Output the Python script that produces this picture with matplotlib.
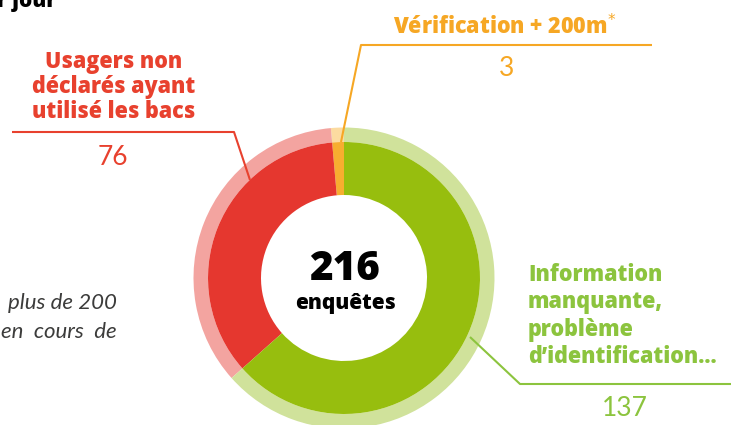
import matplotlib.pyplot as plt

plt.rcParams['font.family'] = ['Lato', 'DejaVu Sans']
BOLD = ['Open Sans', 'DejaVu Sans']

# data
categories = ['Vérification + 200m', 'Usagers non déclarés ayant utilisé les bacs',
              'Information manquante, problème d\u2019identification...']
values = [3, 76, 137]
total = sum(values)

dark = ['#f7ae30', '#e5372f', '#97be0e']
light = ['#fcdba0', '#f3a4a0', '#d0e29b']
txt = ['#f6a724', '#e8412e', '#8cc43e']

# figure in pixel units, y up
fig = plt.figure(figsize=(7.4, 4.25), dpi=100)
ax = fig.add_axes([0, 0, 1, 1])

cx, cy = 344, 147
ax.pie(values, colors=light, radius=150.5, center=(cx, cy), startangle=90,
       counterclock=True, wedgeprops=dict(width=14.5, linewidth=0))
ax.pie(values, colors=dark, radius=136, center=(cx, cy), startangle=90,
       counterclock=True, wedgeprops=dict(width=53, linewidth=0))

ax.set_xlim(0, 740)
ax.set_ylim(0, 425)
ax.set_aspect('equal')
ax.axis('off')

# centre text
ax.text(cx + 1, 156, str(total), ha='center', va='center', fontsize=29,
        fontweight=800, family=BOLD, color='black')
ax.text(cx + 1, 121, 'enquêtes', ha='center', va='center', fontsize=15,
        fontweight=800, family=BOLD, color='black')

# leader lines
ax.plot([12, 234, 250], [293, 293, 245], color=txt[1], lw=1.5, solid_capstyle='butt')
ax.plot([652, 361, 341], [380, 380, 283], color=txt[0], lw=1.5, solid_capstyle='butt')
ax.plot([470, 520, 731], [88, 41, 41], color=txt[2], lw=1.5, solid_capstyle='butt')

# labels
ax.text(114, 338, 'Usagers non\ndéclarés ayant\nutilisé les bacs', ha='center',
        va='center', fontsize=15.5, fontweight=800, family=BOLD, color=txt[1],
        linespacing=1.03)
ax.text(113, 268, str(values[1]), ha='center', va='center', fontsize=19,
        fontweight='normal', color=txt[1])

ax.text(505, 397, 'Vérification + 200m$^{*}$', ha='center', va='center', fontsize=15.5,
        fontweight=800, family=BOLD, color=txt[0])
ax.text(507, 357, str(values[0]), ha='center', va='center', fontsize=19,
        fontweight='normal', color=txt[0])

ax.text(528, 109, 'Information\nmanquante,\nproblème\nd\u2019identification...',
        ha='left', va='center', fontsize=15.5, fontweight=800, family=BOLD,
        color=txt[2], linespacing=1.2)
ax.text(625, 17, str(values[2]), ha='center', va='center', fontsize=19,
        fontweight='normal', color=txt[2])

# cut-off surrounding text
ax.text(-3, 418, 'r jour', ha='left', va='baseline', fontsize=15,
        fontweight=800, family=BOLD, color='black')
ax.text(117, 122, 'plus de 200', ha='right', va='center', fontsize=16,
        style='italic', color='#3c3c3b')
ax.text(117, 93, 'en  cours  de', ha='right', va='center', fontsize=16,
        style='italic', color='#3c3c3b')

fig.savefig('out.png', dpi=100)
